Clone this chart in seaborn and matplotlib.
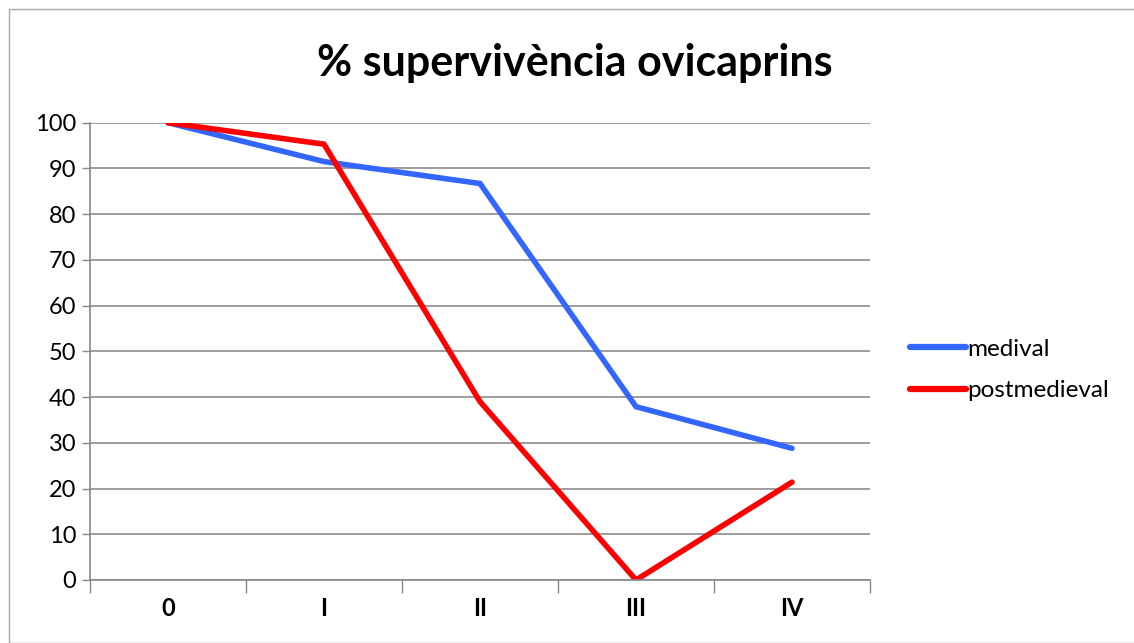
import matplotlib
matplotlib.use("Agg")
import matplotlib.pyplot as plt
import seaborn as sns
import pandas as pd
from matplotlib.patches import Rectangle
from matplotlib.ticker import FixedLocator

categories = ["0", "I", "II", "III", "IV"]
medival = [100, 91.5, 86.7, 37.9, 28.8]
postmedieval = [100, 95.3, 39.0, 0, 21.4]
series_names = ["medival", "postmedieval"]
colors = ["#3366FF", "#FF0000"]

df = pd.DataFrame({
    "cat": categories * 2,
    "val": medival + postmedieval,
    "serie": [series_names[0]] * 5 + [series_names[1]] * 5,
})

sns.set_theme(style="white")
plt.rcParams["font.family"] = ["Lato", "DejaVu Sans"]
plt.rcParams["text.color"] = "black"
plt.rcParams["xtick.color"] = "black"
plt.rcParams["ytick.color"] = "black"
plt.rcParams["axes.labelcolor"] = "black"

fig = plt.figure(figsize=(11.34, 6.43), dpi=100)
ax = fig.add_axes([90/1134, 63/643, 780/1134, (580-122.7)/643])

sns.lineplot(data=df, x="cat", y="val", hue="serie", palette=colors,
             linewidth=4.0, ax=ax, sort=False, legend=True)
for ln in ax.lines:
    ln.set_solid_capstyle("round")
    ln.set_solid_joinstyle("miter")

ax.set_xlim(-0.5, 4.5)
ax.set_ylim(0, 100)
ax.set_yticks(range(0, 101, 10))
ax.set_xticks(range(5))
ax.set_xticklabels(categories, fontweight="bold", fontsize=17)
ax.xaxis.set_minor_locator(FixedLocator([-0.5, 0.5, 1.5, 2.5, 3.5, 4.5]))
ax.tick_params(axis="x", which="major", length=0, pad=12, labelcolor="black")
ax.tick_params(axis="x", which="minor", length=9, width=1, color="#888888", direction="out", bottom=True)
ax.tick_params(axis="y", length=6, width=1, color="#888888", direction="out", left=True,
               labelsize=17, pad=4, labelcolor="black")
ax.set_xlabel("")
ax.set_ylabel("")
ax.grid(axis="y", color="#8c8c8c", linewidth=1.2)
ax.set_axisbelow(True)
for s in ["top", "right"]:
    ax.spines[s].set_visible(False)
for s in ["left", "bottom"]:
    ax.spines[s].set_color("#888888")
    ax.spines[s].set_linewidth(1.2)

leg = ax.legend(loc="center left", bbox_to_anchor=(910/1134, 1 - 370/643),
                bbox_transform=fig.transFigure, frameon=False, fontsize=17.5,
                handlelength=2.3, handletextpad=0.05, labelspacing=0.85,
                borderpad=0, borderaxespad=0)
for h in leg.get_lines():
    h.set_linewidth(4.5)
for t in leg.get_texts():
    t.set_color("black")

fig.text(575/1134, 1 - 63/643, "% supervivència ovicaprins", ha="center", va="center",
         fontsize=31, fontweight="bold", color="black")

fig.patches.append(Rectangle((9/1134, 0), 1.0, 1 - 9/643, transform=fig.transFigure,
                             fill=False, edgecolor="#aaaaaa", linewidth=1))

fig.savefig("out.png", dpi=100)
